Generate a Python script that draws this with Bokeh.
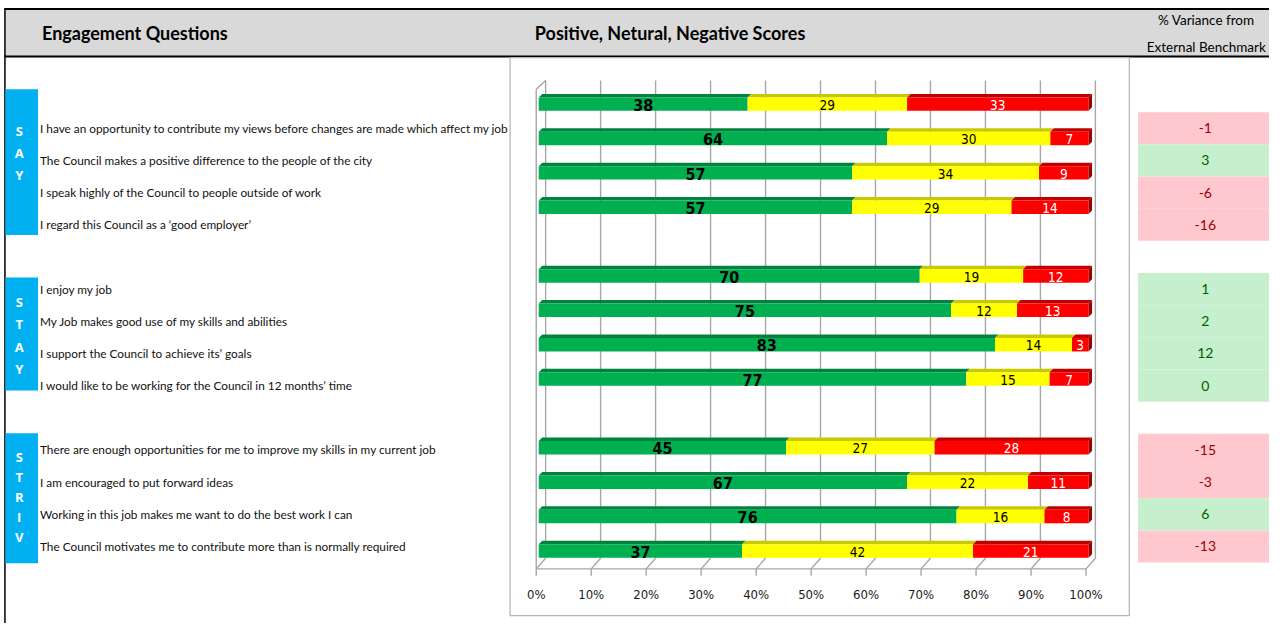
import numpy as np
from bokeh.plotting import figure
from bokeh.models import Range1d
from bokeh.core.properties import value
from bokeh.embed import file_html
from bokeh.resources import INLINE

# ---------------- data ----------------
group_names = ["SAY", "STAY", "STRIV"]
group_sizes = [4, 4, 4]
questions = [
    "I have an opportunity to contribute my views before changes are made which affect my job",
    "The Council makes a positive difference to the people of the city",
    "I speak highly of the Council to people outside of work",
    "I regard this Council as a \u2018good employer\u2019",
    "I enjoy my job",
    "My Job makes good use of my skills and abilities",
    "I support the Council to achieve its\u2019 goals",
    "I would like to be working for the Council in 12 months\u2019 time",
    "There are enough opportunities for me to improve my skills in my current job",
    "I am encouraged to put forward ideas",
    "Working in this job makes me want to do the best work I can",
    "The Council motivates me to contribute more than is normally required",
]
positive = [38, 64, 57, 57, 70, 75, 83, 77, 45, 67, 76, 37]
neutral = [29, 30, 34, 29, 19, 12, 14, 15, 27, 22, 16, 42]
negative = [33, 7, 9, 14, 12, 13, 3, 7, 28, 11, 8, 21]
variance = [-1, 3, -6, -16, 1, 2, 12, 0, -15, -3, 6, -13]
pct_ticks = [0, 10, 20, 30, 40, 50, 60, 70, 80, 90, 100]
pct_tick_labels = ["0%", "10%", "20%", "30%", "40%", "50%", "60%", "70%", "80%", "90%", "100%"]

header_questions = "Engagement Questions"
header_scores = "Positive, Netural, Negative Scores"
header_variance = ["% Variance from", "External Benchmark"]

# ---------------- layout constants (reference pixel frame) ----------------
REF_W = 1285
Y_BOTTOM, Y_TOP = 639, 0
BAR_X0, BAR_X100 = 545.0, 1101.7
PX_PER_PCT = (BAR_X100 - BAR_X0) / 100.0
SLOT_Y0, SLOT_DY = 106.3, 35.25        # bar rows
ROW_Y0, ROW_DY = 131.0, 33.0           # table rows
BACK_OFF = (552.0 - BAR_X0) / PX_PER_PCT
FRONT_OFF = (542.5 - BAR_X0) / PX_PER_PCT
DEPTH_PX = 3.6
FACE_PX = 13.8

GRID_COLOR = "#a6a6a6"
C_POS, C_NEU, C_NEG = "#00b050", "#ffff00", "#ff0000"
C_POS_TOP, C_NEU_TOP, C_NEG_TOP, C_NEG_SIDE = "#00843d", "#c9c900", "#c00000", "#a00000"
BLUE = "#00b0f0"
PINK, PINK_TXT = "#ffc7ce", "#9c0006"
LGREEN, LGREEN_TXT = "#c6efce", "#006100"

NUM_FONT = value("Liberation Sans Narrow, DejaVu Sans Condensed, sans-serif")
TXT_FONT = value("Lato")
BOX_FONT = value("Open Sans")

# ---------------- derived ----------------
slots = []
first_slot, last_slot = [], []
s = 0
for gi, n in enumerate(group_sizes):
    first_slot.append(s)
    for k in range(n):
        slots.append(s)
        s += 1
    last_slot.append(s - 1)
    s += 1  # blank category between groups
slots = np.array(slots, dtype=float)

vals = np.array([positive, neutral, negative], dtype=float)
norm = vals / vals.sum(axis=0) * 100.0
rights = np.cumsum(norm, axis=0)
lefts = rights - norm

# ---------------- figure ----------------
p = figure(width=1269, height=623, x_range=Range1d(0, REF_W), y_range=Range1d(Y_BOTTOM, Y_TOP),
           output_backend="svg", toolbar_location=None, min_border=0,
           x_axis_location=None, y_axis_location=None)
p.grid.visible = False
p.outline_line_color = None
p.background_fill_color = "white"
p.border_fill_color = "white"

p.extra_x_ranges = {"pct": Range1d(-BAR_X0 / PX_PER_PCT, (REF_W - BAR_X0) / PX_PER_PCT)}
p.extra_y_ranges = {
    "slot": Range1d((Y_BOTTOM - SLOT_Y0) / SLOT_DY, (Y_TOP - SLOT_Y0) / SLOT_DY),
    "trow": Range1d((Y_BOTTOM - ROW_Y0) / ROW_DY, (Y_TOP - ROW_Y0) / ROW_DY),
}

# ---- header band ----
p.quad(left=[4.5], right=[REF_W], top=[9], bottom=[57], fill_color="#d9d9d9", line_color=None)
p.segment(x0=[4], y0=[8.8], x1=[REF_W], y1=[8.8], line_color="black", line_width=2)
p.segment(x0=[4], y0=[57.5], x1=[REF_W], y1=[57.5], line_color="black", line_width=2)
p.segment(x0=[4.5], y0=[8], x1=[4.5], y1=[Y_BOTTOM], line_color="black", line_width=1.5)

p.text(x=[42], y=[33], text=[header_questions], text_font=TXT_FONT, text_font_style="bold",
       text_font_size="18px", text_align="left", text_baseline="middle", text_color="black")
p.text(x=[678], y=[33], text=[header_scores], text_font=TXT_FONT, text_font_style="bold",
       text_font_size="18px", text_align="center", text_baseline="middle", text_color="black")
p.text(x=[1221, 1221], y=[20, 48], text=header_variance, text_font=TXT_FONT,
       text_font_size="13.5px", text_align="center", text_baseline="middle", text_color="black")

# ---- chart box ----
p.quad(left=[516], right=[1143], top=[58.5], bottom=[631], fill_color=None,
       line_color="#b4b4b4", line_width=1.2)

# ---- 3D walls / grid ----
ticks = np.array(pct_ticks, dtype=float)
p.segment(x0=ticks + BACK_OFF, y0=82, x1=ticks + BACK_OFF, y1=572, x_range_name="pct",
          line_color=GRID_COLOR, line_width=1.4)
p.segment(x0=ticks + BACK_OFF, y0=572, x1=ticks + FRONT_OFF, y1=583, x_range_name="pct",
          line_color=GRID_COLOR, line_width=1.4)
p.segment(x0=ticks + FRONT_OFF, y0=583, x1=ticks + FRONT_OFF, y1=590, x_range_name="pct",
          line_color=GRID_COLOR, line_width=1.4)
p.segment(x0=[ticks[0] + FRONT_OFF], y0=[583], x1=[ticks[-1] + FRONT_OFF], y1=[583],
          x_range_name="pct", line_color=GRID_COLOR, line_width=1.4)
p.segment(x0=[ticks[0] + FRONT_OFF], y0=[91], x1=[ticks[0] + FRONT_OFF], y1=[583],
          x_range_name="pct", line_color=GRID_COLOR, line_width=1.4)
p.segment(x0=[ticks[0] + FRONT_OFF], y0=[91], x1=[ticks[0] + BACK_OFF], y1=[82],
          x_range_name="pct", line_color=GRID_COLOR, line_width=1.4)

p.text(x=ticks + FRONT_OFF, y=609, text=pct_tick_labels, x_range_name="pct", text_font=NUM_FONT,
       text_font_size="13px", text_align="center", text_baseline="middle", text_color="#1a1a1a")

# ---- bars ----
face_h = FACE_PX / SLOT_DY
dx = DEPTH_PX / PX_PER_PCT
dy = DEPTH_PX / SLOT_DY
fronts = [C_POS, C_NEU, C_NEG]
tops = [C_POS_TOP, C_NEU_TOP, C_NEG_TOP]
for i in range(3):
    l, r = lefts[i], rights[i]
    yt = slots - face_h / 2
    xs = [[a, b, b + dx, a + dx] for a, b in zip(l, r)]
    ys = [[t, t, t - dy, t - dy] for t in yt]
    p.patches(xs=xs, ys=ys, x_range_name="pct", y_range_name="slot",
              fill_color=tops[i], line_color=None)
    p.hbar(y=slots, left=l, right=r, height=face_h, x_range_name="pct", y_range_name="slot",
           fill_color=fronts[i], line_color=None)
# right end caps
r = rights[2]
xs = [[b, b + dx, b + dx, b] for b in r]
ys = [[y - face_h / 2, y - face_h / 2 - dy, y + face_h / 2 - dy, y + face_h / 2] for y in slots]
p.patches(xs=xs, ys=ys, x_range_name="pct", y_range_name="slot", fill_color=C_NEG_SIDE, line_color=None)

# value labels
mids = (lefts + rights) / 2
p.text(x=mids[0], y=slots + 0.02, text=[str(v) for v in positive], x_range_name="pct", y_range_name="slot",
       text_font=NUM_FONT, text_font_style="bold", text_font_size="16px", text_align="center",
       text_baseline="middle", text_color="black")
p.text(x=mids[1], y=slots + 0.02, text=[str(v) for v in neutral], x_range_name="pct", y_range_name="slot",
       text_font=NUM_FONT, text_font_size="13.5px", text_align="center",
       text_baseline="middle", text_color="black")
p.text(x=mids[2], y=slots + 0.02, text=[str(v) for v in negative], x_range_name="pct", y_range_name="slot",
       text_font=NUM_FONT, text_font_size="13.5px", text_align="center",
       text_baseline="middle", text_color="white")

# ---- left table ----
box_pad_top = [1.21, 0.36, 0.52]
box_pad_bottom = [0.32, 0.15, 0.52]
letter_center_off = [-0.73, -0.06, -0.05]
letter_spacing = [0.68, 0.70, 0.62]
for gi, name in enumerate(group_names):
    p.quad(left=[5], right=[38], top=[first_slot[gi] - box_pad_top[gi]],
           bottom=[last_slot[gi] + box_pad_bottom[gi]], y_range_name="trow",
           fill_color=BLUE, line_color=None)
    n = len(name)
    mid = (first_slot[gi] + last_slot[gi]) / 2 + letter_center_off[gi]
    ly = [mid + (k - (n - 1) / 2) * letter_spacing[gi] for k in range(n)]
    p.text(x=[19] * n, y=ly, text=list(name), y_range_name="trow", text_font=BOX_FONT,
           text_font_style="bold", text_font_size="13px", text_align="center",
           text_baseline="middle", text_color="white")

p.text(x=40, y=slots, text=questions, y_range_name="trow", text_font=TXT_FONT,
       text_font_size="11.8px", text_align="left", text_baseline="middle", text_color="#111111")

# ---- variance column ----
var = np.array(variance)
cell_fill = [LGREEN if v >= 0 else PINK for v in var]
cell_txt = [LGREEN_TXT if v >= 0 else PINK_TXT for v in var]
p.quad(left=1152, right=REF_W, top=slots - 0.5, bottom=slots + 0.5, y_range_name="trow",
       fill_color=cell_fill, line_color=None)
p.text(x=1220, y=slots, text=[str(v) for v in variance], y_range_name="trow", text_font=TXT_FONT,
       text_font_size="14px", text_align="center", text_baseline="middle", text_color=cell_txt)

open("out.html", "w").write(file_html(p, INLINE))
